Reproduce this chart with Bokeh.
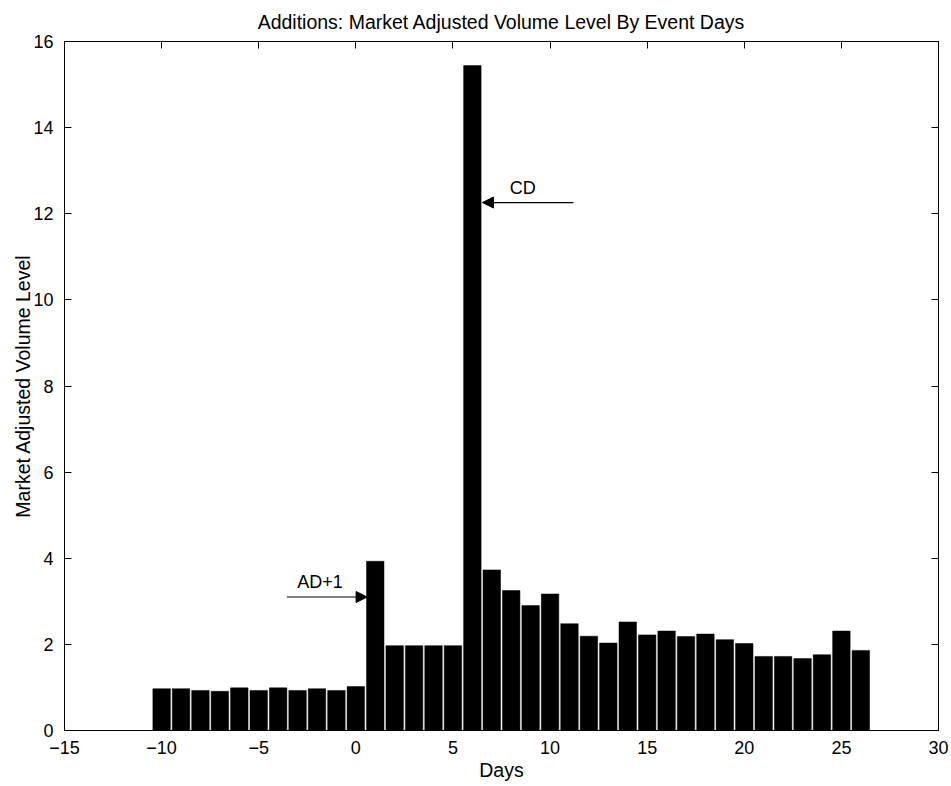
from bokeh.plotting import figure
from bokeh.models import (LinearAxis, SingleIntervalTicker, Arrow, NormalHead,
                          Label, ColumnDataSource)
from bokeh.embed import file_html
from bokeh.resources import INLINE

# Event days relative to the addition announcement
days = [-10, -9, -8, -7, -6, -5, -4, -3, -2, -1, 0, 1, 2, 3, 4, 5, 6, 7, 8,
        9, 10, 11, 12, 13, 14, 15, 16, 17, 18, 19, 20, 21, 22, 23, 24, 25, 26]
# Market adjusted volume level per event day
volume = [0.97, 0.97, 0.93, 0.91, 0.99, 0.93, 0.99, 0.93, 0.97, 0.93, 1.02,
          3.93, 1.97, 1.97, 1.97, 1.97, 15.44, 3.73, 3.25, 2.90, 3.17, 2.48,
          2.19, 2.03, 2.52, 2.22, 2.31, 2.18, 2.24, 2.11, 2.02, 1.72, 1.72,
          1.67, 1.76, 2.31, 1.86]

x_ticks = [-15, -10, -5, 0, 5, 10, 15, 20, 25, 30]
y_ticks = [0, 2, 4, 6, 8, 10, 12, 14, 16]

# Annotation arrows: (label, text x, text y, tail x, tip x, arrow y)
ad_note = ("AD+1", -1.85, 3.44, -3.55, 0.58, 3.10)
cd_note = ("CD", 8.6, 12.6, 11.2, 6.52, 12.26)

FONT = "Liberation Sans"

p = figure(width=951, height=786, x_range=(x_ticks[0], x_ticks[-1]),
           y_range=(y_ticks[0], y_ticks[-1]),
           output_backend="svg", toolbar_location=None,
           min_border_left=64, min_border_right=13,
           min_border_top=41, min_border_bottom=56,
           background_fill_color="white", border_fill_color="white")

p.title.text = "Additions: Market Adjusted Volume Level By Event Days"
p.title.align = "center"
p.title.text_font = FONT
p.title.text_font_size = "19.5px"
p.title.text_font_style = "normal"
p.title.text_color = "black"

p.xgrid.visible = False
p.ygrid.visible = False
p.outline_line_color = "black"
p.outline_line_width = 1

src = ColumnDataSource(dict(day=days, vol=volume))
p.vbar(x="day", top="vol", width=0.9, source=src,
       fill_color="black", line_color="black", line_width=0.5)


def minus(v):
    return str(v).replace("-", "\u2212")


def style_axis(ax, ticks, interval, show_labels):
    ax.ticker = SingleIntervalTicker(interval=interval)
    ax.major_tick_in = 7
    ax.major_tick_out = 0
    ax.minor_tick_line_color = None
    ax.axis_line_color = "black"
    ax.major_tick_line_color = "black"
    ax.major_label_text_font = FONT
    ax.major_label_text_color = "black"
    if show_labels:
        ax.major_label_text_font_size = "18px"
        ax.major_label_overrides = {t: minus(t) for t in ticks}
    else:
        ax.major_label_text_font_size = "0px"
        ax.major_label_standoff = 0


style_axis(p.xaxis[0], x_ticks, 5, True)
style_axis(p.yaxis[0], y_ticks, 2, True)
p.xaxis[0].major_label_standoff = 6
p.yaxis[0].major_label_standoff = 7

p.xaxis[0].axis_label = "Days"
p.yaxis[0].axis_label = "Market Adjusted Volume Level"
for ax in (p.xaxis[0], p.yaxis[0]):
    ax.axis_label_text_font = FONT
    ax.axis_label_text_font_size = "19.5px"
    ax.axis_label_text_font_style = "normal"
    ax.axis_label_text_color = "black"
p.xaxis[0].axis_label_standoff = 2
p.yaxis[0].axis_label_standoff = -4

# Tick marks on the top and right edges of the box
top_axis = LinearAxis()
right_axis = LinearAxis()
style_axis(top_axis, x_ticks, 5, False)
style_axis(right_axis, y_ticks, 2, False)
p.add_layout(top_axis, "above")
p.add_layout(right_axis, "right")

for text, tx, ty, x0, x1, ya in (ad_note, cd_note):
    p.add_layout(Arrow(end=NormalHead(size=11, fill_color="black",
                                      line_color="black"),
                       x_start=x0, y_start=ya, x_end=x1, y_end=ya,
                       line_color="black", line_width=1.2))
    p.add_layout(Label(x=tx, y=ty, text=text, text_font=FONT,
                       text_font_size="18px", text_color="black",
                       text_align="center", text_baseline="middle"))

open("out.html", "w").write(file_html(p, INLINE))
